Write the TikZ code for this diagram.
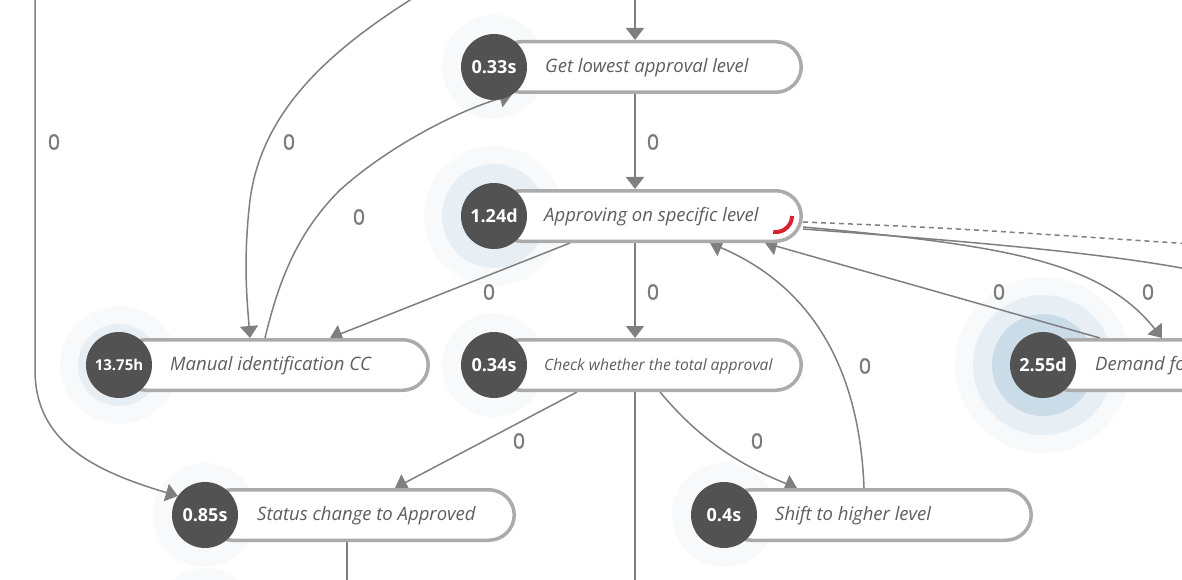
\documentclass[tikz,border=0pt]{standalone}
\usepackage{fontspec}
\setmainfont{Open Sans}
\newfontfamily\numfont{Open Sans}[FakeBold=1.5]
\usetikzlibrary{arrows.meta,calc}
\definecolor{edgec}{HTML}{7F7F7F}
\definecolor{pillc}{HTML}{ABABAB}
\definecolor{dotc}{HTML}{525252}
\definecolor{itc}{HTML}{5E5E5E}
\definecolor{numc}{HTML}{7A7A7A}
\definecolor{hfaint}{HTML}{F7F9FB}
\definecolor{hmid}{HTML}{E7EFF5}
\definecolor{hdeep}{HTML}{C9DCE8}
\definecolor{redc}{HTML}{D9202F}
\pgfdeclarelayer{halo}
\pgfdeclarelayer{edgelayer}
\pgfsetlayers{halo,edgelayer,main}
\begin{document}
\begin{tikzpicture}[x=1pt,y=-1pt,
  pill/.style={draw=pillc, line width=3.5pt, fill=white, rounded corners=25.5pt, minimum height=50.5pt, inner sep=0pt},
  dot/.style={circle, fill=dotc, minimum size=66pt, inner sep=0pt, text=white, font=\fontsize{18}{20}\selectfont\bfseries},
  lbl/.style={text=itc, font=\fontsize{18.5}{21}\selectfont\itshape, anchor=west, inner sep=0pt},
  num/.style={text=numc, font=\numfont\fontsize{21}{24}\selectfont, inner sep=0pt},
  edge/.style={draw=edgec, line width=1.5pt, -{Triangle[width=18pt,length=12pt]}},
  plain/.style={draw=edgec, line width=1.5pt}]
\useasboundingbox (0,0) rectangle (1182,580);
\clip (0,0) rectangle (1182,580);

% nodes
\node[pill, minimum width=305.5pt] (gl) at (648.5,67) {};
\node[dot] (glc) at (494,67) {0.33s};
\node[lbl] (glt) at (545,68) {Get lowest approval level};

\node[pill, minimum width=305.5pt] (ap) at (648.5,216) {};
\node[dot] (apc) at (494,216) {1.24d};
\node[lbl] (apt) at (544,217) {Approving on specific level};
\draw[redc, line width=4pt] ($(ap.east)+(-11,0)$) arc[start angle=0, end angle=-100, radius=16pt];

\node[pill, minimum width=307.5pt] (mi) at (274.5,365) {};
\node[dot, font=\fontsize{15}{17}\selectfont\bfseries] (mic) at (119,365) {13.75h};
\node[lbl] (mit) at (170,366) {Manual identification CC};

\node[pill, minimum width=305.5pt] (ck) at (648.5,365) {};
\node[dot] (ckc) at (494,365) {0.34s};
\node[lbl, font=\fontsize{15.6}{18}\selectfont\itshape] (ckt) at (544,366) {Check whether the total approval};

\node[pill, minimum width=307.5pt] (st) at (360.5,515) {};
\node[dot] (stc) at (205,515) {0.85s};
\node[lbl] (stt) at (257,516) {Status change to Approved};

\node[pill, minimum width=305.5pt] (sh) at (878.5,515) {};
\node[dot] (shc) at (724,515) {0.4s};
\node[lbl] (sht) at (775,516) {Shift to higher level};

\node[pill, minimum width=354pt] (dm) at (1221.5,365) {};
\node[dot] (dmc) at (1043,365) {2.55d};
\node[lbl] (dmt) at (1095,366) {Demand fo};

% free ends
\coordinate (topin) at (635,-5);
\coordinate (botout) at (635,590);
\coordinate (stout) at (347,590);
\coordinate (leftin) at (35,-5);
\coordinate (tlin) at (418,-5);
\coordinate (rout) at (1192,270);
\coordinate (dout) at (1192,244);

% edge labels
\node[num] (n0) at (653,-11) {0};
\node[num] (n1) at (653,142) {0};
\node[num] (n2) at (653,292) {0};
\node[num] (n3) at (54,142) {0};
\node[num] (n4) at (289,142) {0};
\node[num] (n5) at (359,217) {0};
\node[num] (n6) at (489,292) {0};
\node[num] (n7) at (519,441) {0};
\node[num] (n8) at (757,441) {0};
\node[num] (n9) at (865,366) {0};
\node[num] (n10) at (999,292) {0};
\node[num] (n11) at (1148,292) {0};

\begin{pgfonlayer}{halo}
\clip (0,0) rectangle (1182,580);
\fill[hfaint] (glc) circle[radius=52pt];
\fill[hfaint] (apc) circle[radius=70pt];
\fill[hmid] (apc) circle[radius=52pt];
\fill[hfaint] (mic) circle[radius=59pt];
\fill[hmid] (mic) circle[radius=41pt];
\fill[hfaint] (ckc) circle[radius=52pt];
\fill[hfaint] (stc) circle[radius=52pt];
\fill[hfaint] (shc) circle[radius=52pt];
\fill[hfaint] (dmc) circle[radius=88pt];
\fill[hmid] (dmc) circle[radius=70pt];
\fill[hdeep] (dmc) circle[radius=51pt];
\fill[hfaint] (205,620) circle[radius=52pt];
\end{pgfonlayer}

\begin{pgfonlayer}{edgelayer}
\clip (0,0) rectangle (1182,580);
\draw[edge] (topin) -- (gl.north -| topin);
\draw[edge] (gl.south -| topin) -- (ap.north -| topin);
\draw[edge] (ap.south -| topin) -- (ck.north -| topin);
\draw[plain] (ck.south -| topin) -- (botout);
\draw[plain] (st.south -| stout) -- (stout);
\draw[edge] (leftin) -- (35,370) .. controls (35,440) and (90,470) .. (stc.145);
\draw[edge] (tlin) .. controls (330,50) and (262,110) .. (250,200) .. controls (243,260) and (247,300) .. (mi.north -| 250,0);
\draw[edge] (mi.north -| 265,0) .. controls (280,275) and (300,230) .. (340,190) .. controls (390,145) and (460,110) .. (glc.-58);
\draw[edge] (ap.south -| 570,0) -- (mi.north -| 330,0);
\draw[edge] (ck.south -| 577,0) -- (st.north -| 395,0);
\draw[edge] (ck.south -| 660,0) .. controls (700,440) and (740,465) .. (sh.north -| 797,0);
\draw[edge] (sh.north -| 864,0) .. controls (860,380) and (820,290) .. (ap.south -| 710,0);
\draw[edge] (dm.north -| 1100,0) -- (ap.south -| 765,0);
\draw[edge] ($(ap.east)+(0,11)$) .. controls (1000,245) and (1100,260) .. (dm.north -| 1162,0);
\draw[plain] ($(ap.east)+(0,13)$) .. controls (950,240) and (1100,252) .. (rout);
\draw[plain, dash pattern=on 5pt off 4pt] ($(ap.east)+(0,6)$) .. controls (950,228) .. (dout);
\end{pgfonlayer}
\end{tikzpicture}
\end{document}
